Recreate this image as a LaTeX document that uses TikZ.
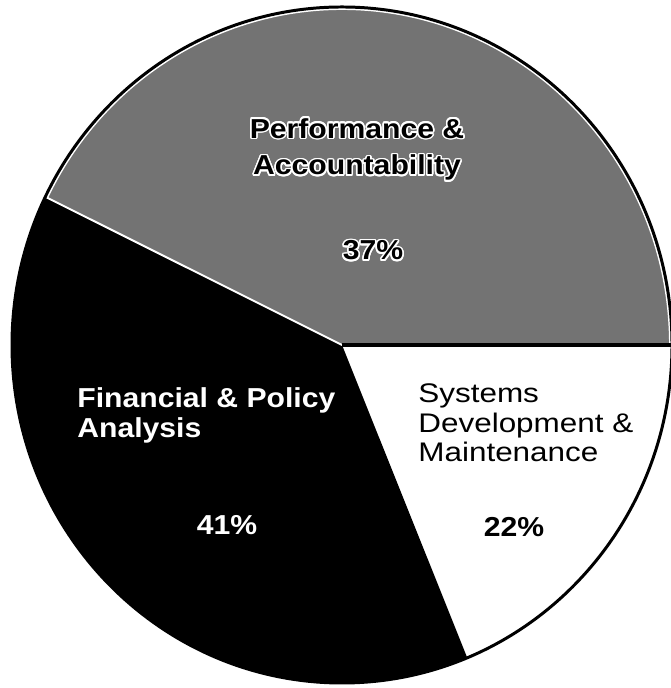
\documentclass[tikz,border=0pt]{standalone}
\usepackage{fontspec}
\setmainfont{Liberation Sans}
\newfontfamily\piefont[FakeStretch=1.1]{Liberation Sans}
\newfontfamily\sysfont[FakeStretch=1.17]{Liberation Sans}
\usepackage{contour}
\contourlength{0.9pt}

\begin{document}
\begin{tikzpicture}[x=0.02cm, y=0.02cm,
    pielabel/.style={inner sep=0pt, font=\piefont\fontsize{15.6}{17.6}\selectfont\bfseries},
    syslabel/.style={inner sep=0pt, font=\sysfont\fontsize{15.3}{17}\selectfont}]
    \useasboundingbox (0,0) rectangle (670,688);
    % pie centre and rim
    \coordinate (c) at (342,343);
    \coordinate (r) at (672,343);
    \fill[white] (c) ellipse [x radius=330, y radius=338];
    % Financial & Policy Analysis (41%)
    \fill[black] (c) -- ++(154:330 and 338)
        arc[start angle=154, end angle=292.3, x radius=330, y radius=338] -- cycle;
    % Performance & Accountability (37%)
    \filldraw[fill=black!55, draw=white, line width=1.1pt] (c) -- ++(0:328 and 336)
        arc[start angle=0, end angle=154, x radius=328, y radius=336] -- cycle;
    \draw[line width=2pt] (c) -- (r);
    \draw[line width=1.7pt] (c) ellipse [x radius=330, y radius=338];
    % labels (base = last line)
    \node[pielabel, align=center, anchor=base] (perf) at (357,513)
        {\contour{white}{Performance \&}\\[3.4pt]\contour{white}{Accountability}};
    \node[pielabel, anchor=base] (perfval) at (373,428) {\contour{white}{37\%}};
    \node[pielabel, text=white, align=left, anchor=base west] (fin) at (77,250)
        {Financial \& Policy\\Analysis};
    \node[pielabel, text=white, anchor=base] (finval) at (227,153) {41\%};
    \node[syslabel, align=left, anchor=base west] (sys) at (418,226)
        {Systems\\Development \&\\Maintenance};
    \node[pielabel, anchor=base] (sysval) at (514,151) {22\%};
\end{tikzpicture}
\end{document}
